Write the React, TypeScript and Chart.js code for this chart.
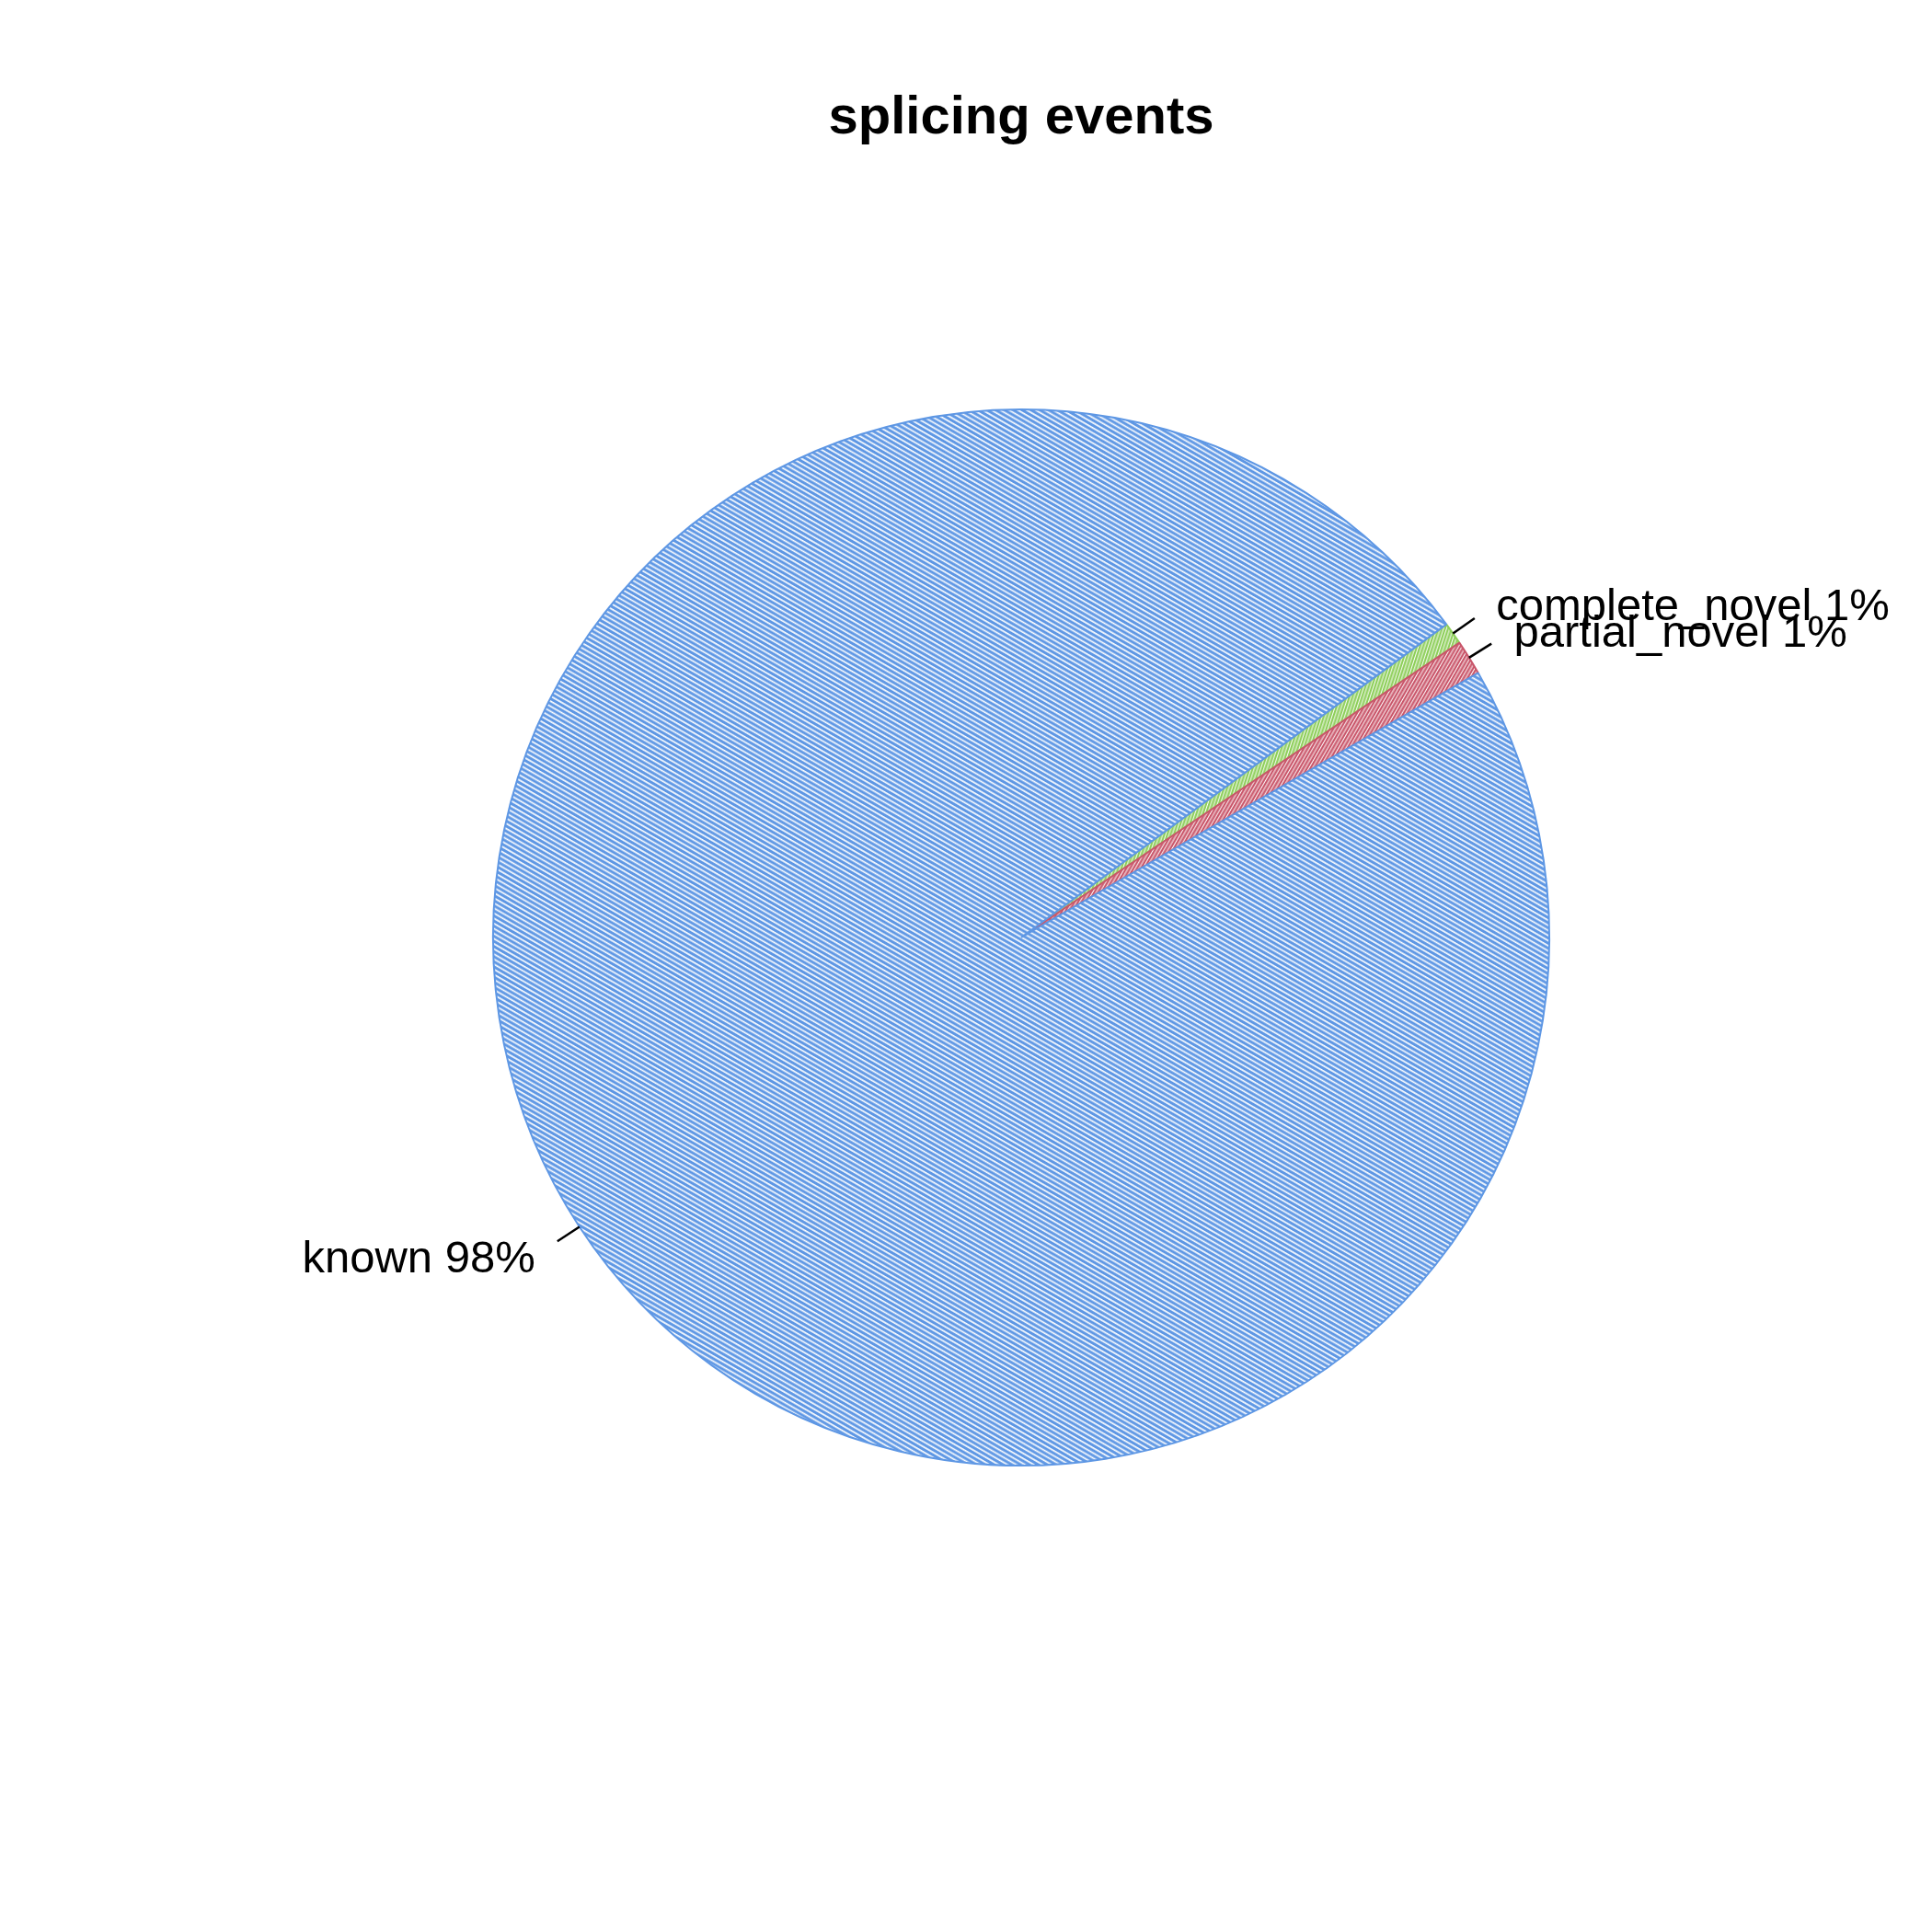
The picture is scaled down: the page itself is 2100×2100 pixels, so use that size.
import React, { useEffect, useRef } from "react";
import { Chart, registerables } from "chart.js";

Chart.register(...registerables);

const TITLE = "splicing events";
const categories = ["complete_novel", "partial_novel", "known"];
const values = [0.68, 1.07, 98.25];
const sliceColors = ["#8DCE59", "#C9566A", "#5E97E4"];
const hatchAngles = [72, 60, -30]; // degrees, counterclockwise from horizontal
const hatchPeriods = [3.3, 3.4, 4.8];
const hatchGaps = [1.0, 1.0, 1.7];

const total = values.reduce((a, b) => a + b, 0);
const percentLabels = values.map((v) => `${Math.round((v / total) * 100)}%`);

function makeHatch(
  ctx: CanvasRenderingContext2D,
  color: string,
  angleDeg: number,
  period: number,
  gap: number
): CanvasPattern | string {
  const n = 10;
  const h = Math.round(period * n);
  const w = 16;
  const tile = document.createElement("canvas");
  tile.width = w;
  tile.height = h;
  const t = tile.getContext("2d");
  if (!t) return color;
  t.fillStyle = color;
  t.fillRect(0, 0, w, h);
  t.fillStyle = "#ffffff";
  const p = h / n;
  for (let i = 0; i < n; i++) t.fillRect(0, i * p, w, gap);
  const pat = ctx.createPattern(tile, "repeat");
  if (!pat) return color;
  pat.setTransform(new DOMMatrix().rotateSelf(-angleDeg));
  return pat;
}

const labelPlugin = {
  id: "pieLabels",
  afterDraw(chart: any) {
    const ctx: CanvasRenderingContext2D = chart.ctx;
    const meta = chart.getDatasetMeta(0);
    ctx.save();
    meta.data.forEach((arc: any, i: number) => {
      const { x, y, startAngle, endAngle, outerRadius } = arc.getProps(
        ["x", "y", "startAngle", "endAngle", "outerRadius"],
        true
      );
      const mid = (startAngle + endAngle) / 2;
      const c = Math.cos(mid);
      const s = Math.sin(mid);
      ctx.strokeStyle = "#000000";
      ctx.lineWidth = 2.5;
      ctx.beginPath();
      ctx.moveTo(x + c * outerRadius, y + s * outerRadius);
      ctx.lineTo(x + c * outerRadius * 1.05, y + s * outerRadius * 1.05);
      ctx.stroke();
      ctx.font = "49px 'Liberation Sans', Arial, sans-serif";
      ctx.fillStyle = "#000000";
      ctx.textAlign = c < 0 ? "right" : "left";
      ctx.textBaseline = "alphabetic";
      ctx.fillText(
        `${categories[i]} ${percentLabels[i]}`,
        x + c * outerRadius * 1.1,
        y + s * outerRadius * 1.1 + 18.5
      );
    });
    ctx.font = "bold 58px 'Liberation Sans', Arial, sans-serif";
    ctx.fillStyle = "#000000";
    ctx.textAlign = "center";
    ctx.textBaseline = "alphabetic";
    const cx = meta.data.length ? meta.data[0].x : 1110;
    ctx.fillText(TITLE, cx, 145);
    ctx.restore();
  },
};

export default function App() {
  const canvasRef = useRef<HTMLCanvasElement | null>(null);

  useEffect(() => {
    const canvas = canvasRef.current;
    if (!canvas) return;
    const ctx = canvas.getContext("2d");
    if (!ctx) return;
    const patterns = sliceColors.map((col, i) =>
      makeHatch(ctx, col, hatchAngles[i], hatchPeriods[i], hatchGaps[i])
    );
    const chart = new Chart(canvas, {
      type: "pie",
      data: {
        labels: categories,
        datasets: [
          {
            data: values,
            backgroundColor: patterns as any,
            borderColor: sliceColors,
            borderWidth: 2,
            hoverOffset: 0,
          },
        ],
      },
      options: {
        responsive: false,
        maintainAspectRatio: false,
        animation: false,
        devicePixelRatio: 1,
        rotation: 53.63,
        radius: 574,
        layout: {
          padding: { left: 510, right: 390, top: 419, bottom: 481 },
        },
        plugins: {
          legend: { display: false },
          tooltip: { enabled: false },
          title: { display: false },
        },
        events: [],
      } as any,
      plugins: [labelPlugin],
    });
    return () => chart.destroy();
  }, []);

  return (
    <div
      style={{
        position: "absolute",
        left: 0,
        top: 0,
        width: 2100,
        height: 2100,
        background: "#ffffff",
      }}
    >
      <canvas ref={canvasRef} width={2100} height={2100} style={{ display: "block" }} />
    </div>
  );
}
